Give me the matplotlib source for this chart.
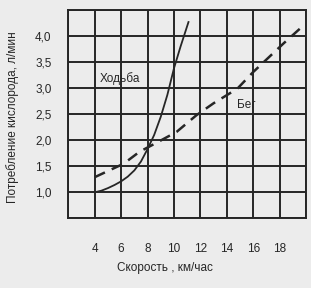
import matplotlib
matplotlib.use("Agg")
import matplotlib.pyplot as plt

# данные
walk_x = [4, 4.5, 5, 5.5, 6, 6.5, 7, 7.5, 8, 8.5, 9, 9.5, 10, 10.5, 11.1]
walk_y = [1.0, 1.03, 1.08, 1.14, 1.21, 1.3, 1.42, 1.59, 1.83, 2.1, 2.45, 2.87, 3.38, 3.8, 4.27]

run_x = [4, 6.2, 7.4, 8.6, 10.2, 11.7, 13, 14.8, 16, 18.3, 19.7]
run_y = [1.29, 1.55, 1.78, 1.94, 2.16, 2.48, 2.71, 2.99, 3.31, 3.86, 4.18]

x_ticks = [2, 4, 6, 8, 10, 12, 14, 16, 18, 20]
x_labels = ["", "4", "6", "8", "10", "12", "14", "16", "18", ""]
y_ticks = [0.5, 1.0, 1.5, 2.0, 2.5, 3.0, 3.5, 4.0, 4.5]
y_labels = ["", "1,0", "1,5", "2,0", "2,5", "3,0", "3,5", "4,0", ""]

plt.rcParams['font.family'] = ['Liberation Sans', 'DejaVu Sans']
ink = "#262626"
paper = "#ececec"
fs = 8.5

fig = plt.figure(figsize=(3.11, 2.88), dpi=100, facecolor=paper)
ax = fig.add_axes([0.2196, 0.242, 0.7644, 0.723])
ax.set_facecolor(paper)

ax.plot(walk_x, walk_y, color=ink, lw=1.3)
ax.plot(run_x, run_y, color=ink, lw=1.8, dashes=(4.5, 3))

ax.text(4.4, 3.19, "Ходьба", fontsize=fs, color=ink, va="center")
ax.text(14.75, 2.67, "Бег", fontsize=fs, color=ink, va="center")

ax.set_xlim(2, 20)
ax.set_ylim(0.5, 4.5)
ax.set_xticks(x_ticks)
ax.set_xticklabels(x_labels)
ax.set_yticks(y_ticks)
ax.set_yticklabels(y_labels)
ax.tick_params(length=0, labelsize=fs, colors=ink)
ax.tick_params(axis="x", pad=18)
ax.tick_params(axis="y", pad=12)
ax.grid(True, color=ink, lw=1.4)
for s in ax.spines.values():
    s.set_color(ink)
    s.set_linewidth(1.4)

ax.set_xlabel("Скорость , км/час", fontsize=fs, color=ink)
ax.xaxis.set_label_coords(0.407, -0.21)
ax.set_ylabel("Потребление кислорода, л/мин", fontsize=fs, color=ink)
ax.yaxis.set_label_coords(-0.207, 0.486)

fig.savefig("out.png", dpi=100, facecolor=paper)
